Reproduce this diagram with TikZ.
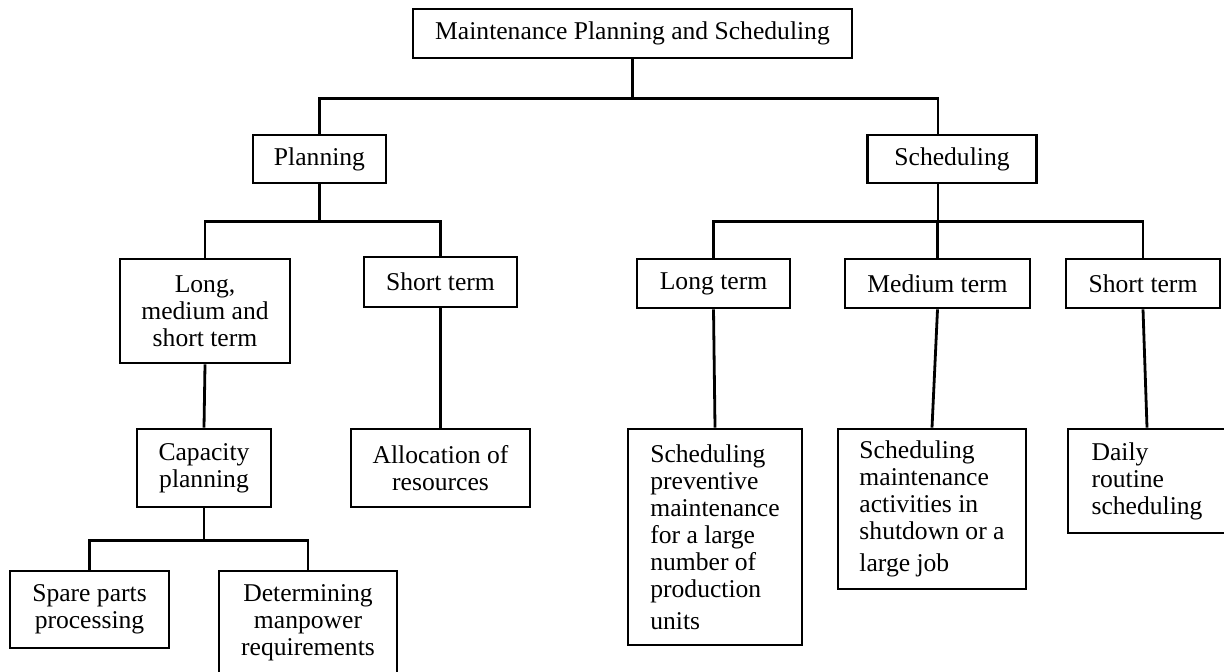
\documentclass[tikz,border=0pt]{standalone}
\usepackage{fontspec}
\setmainfont{Liberation Serif}
\usepackage{tikz}

\begin{document}
\begin{tikzpicture}[x=0.5pt,y=-0.5pt,
  box/.style={draw,line width=1.4pt,inner sep=3pt,align=center,
    font=\fontsize{12.8}{13.5}\selectfont},
  lbox/.style={box,align=left},
  link/.style={line width=1.4pt}]
\useasboundingbox (0,0) rectangle (1224,671);

% top levels
\node[box,minimum width=219.5pt,minimum height=24.5pt] (top) at (632.5,33.5) {Maintenance Planning and Scheduling};
\node[box,minimum width=66.5pt,minimum height=24pt] (plan) at (319.5,159) {Planning};
\node[box,minimum width=84.5pt,minimum height=24pt] (sched) at (952,159) {Scheduling};

% planning side
\node[box,minimum width=85pt,minimum height=52pt] (lms) at (205,311) {Long,\\ medium and\\ short term};
\node[box,minimum width=76.5pt,minimum height=25pt] (pshort) at (440.5,282) {Short term};
\node[box,minimum width=67pt,minimum height=39pt] (cap) at (204,468) {Capacity\\ planning};
\node[box,minimum width=89.5pt,minimum height=39pt] (alloc) at (440.5,468) {Allocation of\\ resources};
\node[box,minimum width=79.5pt,minimum height=38.5pt] (spare) at (89.5,609.5) {Spare parts\\ processing};
\node[box,minimum width=89pt,minimum height=52pt] (manp) at (308,623) {Determining\\ manpower\\ requirements};

% scheduling side
\node[box,minimum width=76.5pt,minimum height=24.5pt] (slong) at (713.5,283.5) {Long term};
\node[box,minimum width=92.5pt,minimum height=24.5pt] (smed) at (937.5,283.5) {Medium term};
\node[box,minimum width=77pt,minimum height=24.5pt] (sshort) at (1143,283.5) {Short term};
\node[lbox,minimum width=87pt,minimum height=108pt] (prev) at (715,537) {Scheduling\\ preventive\\ maintenance\\ for a large\\ number of\\ production\\[2.5pt] units};
\node[lbox,minimum width=94pt,minimum height=80pt] (shut) at (932,509) {Scheduling\\ maintenance\\ activities in\\ shutdown or a\\[2.5pt] large job};
\node[lbox,minimum width=79pt,minimum height=52pt] (daily) at (1147,481) {Daily\\ routine\\ scheduling};

% connectors
\draw[link] (top.south) -- ++(0,39) -| (plan.north);
\draw[link] (top.south) -- ++(0,39) -| ([xshift=-7pt]sched.north);

\draw[link] (plan.south) -- ++(0,37) -| (lms.north);
\draw[link] (plan.south) -- ++(0,37) -| (pshort.north);
\draw[link] (lms.south) -- (cap.north);
\draw[link] (pshort.south) -- (alloc.north);
\draw[link] (cap.south) -- ++(0,32) -| (spare.north);
\draw[link] (cap.south) -- ++(0,32) -| (manp.north);

\draw[link] ([xshift=-7pt]sched.south) -- ++(0,37) -| (slong.north);
\draw[link] ([xshift=-7pt]sched.south) -- ++(0,37) -| (smed.north);
\draw[link] ([xshift=-7pt]sched.south) -- ++(0,37) -| (sshort.north);
\draw[link] (slong.south) -- (prev.north);
\draw[link] (smed.south) -- (shut.north);
\draw[link] (sshort.south) -- (daily.north);
\end{tikzpicture}
\end{document}
